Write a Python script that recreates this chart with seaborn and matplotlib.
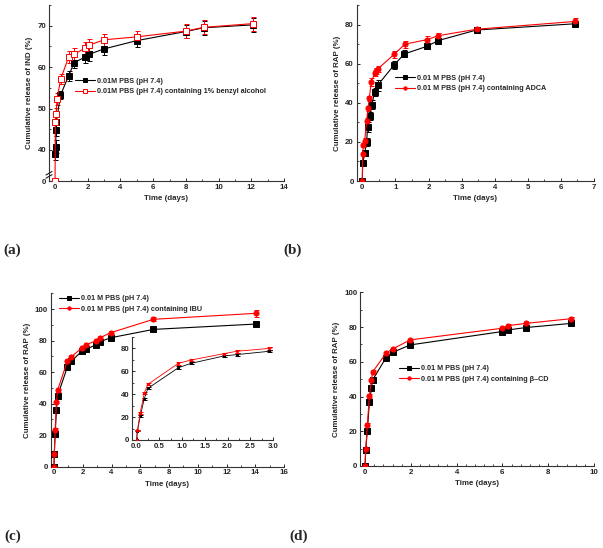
import numpy as np
import matplotlib
matplotlib.use('Agg')
import matplotlib.pyplot as plt
import seaborn as sns
from matplotlib.ticker import MultipleLocator, FixedLocator

# Data

# (a) IND release
a_black_x = [0.02, 0.04, 0.06, 0.08, 0.33, 0.83, 1.17, 1.83, 2.08, 3, 5, 8, 9.08, 12.08]
a_black_y = [39.0, 40.8, 44.8, 46.7, 53.2, 57.9, 61.1, 62.4, 63.1, 64.4, 66.4, 68.6, 69.5, 70.2]
a_black_e = [1.5, 1.5, 1.5, 1.5, 1.0, 1.2, 1.4, 1.4, 1.6, 1.5, 1.5, 1.5, 1.7, 1.7]
a_red_x = [0, 0.02, 0.06, 0.12, 0.35, 0.83, 1.17, 1.83, 2.08, 3, 5, 8, 9.08, 12.08]
a_red_y = [0, 46.7, 48.6, 52.3, 57.2, 62.4, 63.1, 64.6, 65.3, 66.6, 67.3, 68.7, 69.6, 70.5]
a_red_e = [0, 1.5, 1.5, 1.5, 1.2, 1.4, 1.4, 1.4, 1.5, 1.5, 1.5, 1.7, 1.7, 1.7]

# (b) RAP with ADCA
b_black_x = [0, 0.01, 0.07, 0.13, 0.16, 0.23, 0.29, 0.37, 0.46, 0.97, 1.27, 1.96, 2.29, 3.45, 6.43]
b_black_y = [0, 9.0, 14.1, 20.1, 27.7, 33.2, 39.1, 45.6, 48.9, 59.5, 65.0, 68.9, 71.8, 77.2, 80.4]
b_black_e = [0, 1.0, 1.5, 2.0, 2.5, 2.0, 2.5, 2.0, 3.0, 2.0, 1.8, 1.2, 1.2, 1.0, 1.2]
b_red_x = [0, 0.01, 0.03, 0.07, 0.13, 0.17, 0.21, 0.27, 0.37, 0.42, 0.46, 0.97, 1.29, 1.96, 2.29, 3.45, 6.43]
b_red_y = [0, 13.8, 18.2, 20.4, 30.5, 37.1, 42.2, 50.5, 55.0, 56.2, 57.2, 64.9, 70.0, 72.3, 74.3, 77.6, 81.6]
b_red_e = [0, 1.0, 1.0, 1.5, 1.5, 1.5, 1.5, 2.0, 1.5, 1.5, 1.5, 1.8, 1.8, 1.8, 1.5, 1.2, 1.8]

# (c) RAP with IBU (inset shows the first 3 days)
c_x = [0, 0.02, 0.08, 0.17, 0.25, 0.92, 1.2, 1.92, 2.2, 2.92, 3.2, 3.94, 6.92, 14.06]
c_black_y = [0, 8.0, 20.7, 36.0, 45.0, 63.0, 66.8, 73.2, 74.4, 77.3, 79.3, 81.8, 87.1, 90.5]
c_black_e = [0, 0.5, 0.8, 0.8, 1.0, 1.2, 1.0, 1.0, 1.0, 1.0, 1.0, 1.0, 1.0, 1.0]
c_red_y = [0, 8.3, 23.5, 41.0, 48.5, 66.8, 69.7, 75.2, 77.3, 79.8, 81.8, 85.0, 93.5, 97.3]
c_red_e = [0, 0.5, 0.8, 0.8, 1.0, 1.2, 1.0, 1.0, 1.2, 1.0, 1.0, 1.0, 1.2, 2.2]

# (d) RAP with beta-CD
d_x = [0, 0.03, 0.1, 0.19, 0.28, 0.33, 0.92, 1.24, 1.97, 5.99, 6.23, 7.02, 9.0]
d_black_y = [0, 9.2, 20.3, 36.7, 44.7, 49.5, 62.4, 65.6, 69.7, 77.4, 78.3, 79.7, 82.1]
d_red_y = [0, 9.6, 23.4, 40.3, 49.3, 54.1, 65.0, 67.6, 72.6, 79.3, 80.8, 82.1, 84.8]
d_err = [0, 0.8, 1.5, 1.0, 1.0, 1.0, 0.8, 0.8, 0.8, 0.8, 0.8, 0.8, 0.8]

labels_ab = ["0.01M PBS (pH 7.4)", "0.01M PBS (pH 7.4) containing 1% benzyl alcohol"]
labels_b = ["0.01 M PBS (pH 7.4)", "0.01 M PBS (pH 7.4) containing ADCA"]
labels_c = ["0.01 M PBS (pH 7.4)", "0.01 M PBS (pH 7.4) containing IBU"]
labels_d = ["0.01 M PBS (pH 7.4)", "0.01 M PBS (pH 7.4) containing \u03b2\u2013CD"]

sns.set_style('ticks')
plt.rcParams['font.family'] = ['Liberation Sans', 'DejaVu Sans']
plt.rcParams['font.weight'] = 'bold'
plt.rcParams['axes.labelweight'] = 'bold'

RED = '#ff0000'
FS = 5.7
LEG_FS = 5.2
W, H = 603, 548

fig = plt.figure(figsize=(W / 100, H / 100), dpi=100)


def add_axes(l, r, t, b):
    return fig.add_axes([l / W, 1 - b / H, (r - l) / W, (b - t) / H])


def series(ax, x, y, e, color, marker, label, ms=3.7, mfc=None, lw=0.8):
    ax.errorbar(x, y, yerr=e, fmt='none', ecolor=color, elinewidth=0.7,
                capsize=1.8, capthick=0.7, zorder=2)
    sns.lineplot(x=x, y=y, ax=ax, color=color, marker=marker, markersize=ms,
                 markeredgecolor=color, markerfacecolor=mfc or color,
                 markeredgewidth=0.7, linewidth=lw, sort=False, estimator=None,
                 label=label, zorder=3)


def style(ax, ylabel, fs=FS):
    for s in ['top', 'right']:
        ax.spines[s].set_visible(False)
    for s in ['left', 'bottom']:
        ax.spines[s].set_linewidth(0.8)
        ax.spines[s].set_color('#333333')
    ax.tick_params(which='major', direction='in', length=2.5, width=0.7,
                   labelsize=fs, pad=2)
    ax.tick_params(which='minor', direction='in', length=1.3, width=0.6)
    for t in ax.get_xticklabels() + ax.get_yticklabels():
        t.set_fontweight('bold')
    if ylabel is not None:
        ax.set_ylabel(ylabel, fontsize=fs, fontweight='bold', labelpad=3)
        ax.set_xlabel('Time (days)', fontsize=fs, fontweight='bold', labelpad=3)


def legend(ax, x, y):
    ax.legend(loc='center left', bbox_to_anchor=(x, y), frameon=False,
              prop={'size': LEG_FS, 'weight': 'bold'}, handlelength=2.8,
              handletextpad=0.3, labelspacing=0.5, borderpad=0,
              borderaxespad=0, markerscale=0.65)


# (a) broken y axis: 0 squeezed under 35
def fwd(y):
    y = np.asarray(y, dtype=float)
    return np.where(y >= 35, y, 32.5 + y * 2.5 / 35)


def inv(t):
    t = np.asarray(t, dtype=float)
    return np.where(t >= 35, t, (t - 32.5) * 35 / 2.5)


ax = add_axes(49, 284, 5, 181)
ax.set_yscale('function', functions=(fwd, inv))
series(ax, a_black_x, a_black_y, a_black_e, 'black', 's', labels_ab[0])
series(ax, a_red_x, a_red_y, a_red_e, RED, 's', labels_ab[1], mfc='white')
ax.set_xlim(-0.37, 14)
ax.set_ylim(0, 75)
ax.xaxis.set_major_locator(MultipleLocator(2))
ax.xaxis.set_minor_locator(MultipleLocator(1))
ax.yaxis.set_major_locator(FixedLocator([0, 40, 50, 60, 70]))
ax.yaxis.set_minor_locator(FixedLocator([45, 55, 65, 75]))
style(ax, 'Cumulative release of IND (%)')
for dy in (0.026, 0.044):
    ax.plot([-0.013, 0.013], [dy - 0.01, dy + 0.01], transform=ax.transAxes,
            color='black', lw=0.7, clip_on=False)
legend(ax, 0.11, 0.537)

# (b)
ax = add_axes(356.7, 594, 5, 181)
series(ax, b_black_x, b_black_y, b_black_e, 'black', 's', labels_b[0])
series(ax, b_red_x, b_red_y, b_red_e, RED, 'o', labels_b[1])
ax.set_xlim(-0.17, 7)
ax.set_ylim(0, 90)
ax.xaxis.set_major_locator(MultipleLocator(1))
ax.xaxis.set_minor_locator(MultipleLocator(0.5))
ax.yaxis.set_major_locator(MultipleLocator(20))
ax.yaxis.set_minor_locator(MultipleLocator(10))
style(ax, 'Cumulative release of RAP (%)')
legend(ax, 0.161, 0.554)

# (c)
ax = add_axes(50.7, 284, 293.3, 466.7)
series(ax, c_x, c_black_y, c_black_e, 'black', 's', labels_c[0])
series(ax, c_x, c_red_y, c_red_e, RED, 'o', labels_c[1])
ax.set_xlim(-0.23, 16)
ax.set_ylim(0, 110)
ax.xaxis.set_major_locator(MultipleLocator(2))
ax.xaxis.set_minor_locator(MultipleLocator(1))
ax.yaxis.set_major_locator(MultipleLocator(20))
ax.yaxis.set_minor_locator(MultipleLocator(10))
style(ax, 'Cumulative release of RAP (%)')
legend(ax, 0.036, 0.938)

ins = add_axes(132, 273, 336.7, 440)
series(ins, c_x, c_black_y, c_black_e, 'black', 's', None, ms=1.6, lw=0.6)
series(ins, c_x, c_red_y, c_red_e, RED, 'o', None, ms=1.6, lw=0.6)
ins.set_xlim(-0.1, 3.0)
ins.set_ylim(0, 90)
ins.xaxis.set_major_locator(MultipleLocator(0.5))
ins.xaxis.set_minor_locator(MultipleLocator(0.25))
ins.yaxis.set_major_locator(MultipleLocator(20))
ins.yaxis.set_minor_locator(MultipleLocator(10))
ins.set_xlabel('')
ins.set_ylabel('')
style(ins, None)
if ins.get_legend():
    ins.get_legend().remove()

# (d)
ax = add_axes(360, 594, 292.3, 466)
series(ax, d_x, d_black_y, d_err, 'black', 's', labels_d[0])
series(ax, d_x, d_red_y, d_err, RED, 'o', labels_d[1])
ax.set_xlim(-0.22, 10)
ax.set_ylim(0, 100)
ax.xaxis.set_major_locator(MultipleLocator(2))
ax.xaxis.set_minor_locator(MultipleLocator(0.4))
ax.yaxis.set_major_locator(MultipleLocator(20))
ax.yaxis.set_minor_locator(MultipleLocator(10))
style(ax, 'Cumulative release of RAP (%)')
legend(ax, 0.167, 0.53)

# panel letters
for lab, (px, py) in zip(['(a)', '(b)', '(c)', '(d)'],
                         [(3, 250), (283, 250), (4, 536), (289, 536)]):
    fig.text(px / W, 1 - py / H, lab, fontsize=11, fontweight='bold',
             family=['Liberation Serif', 'DejaVu Serif'], va='center', ha='left')

fig.savefig('out.png', dpi=100)
